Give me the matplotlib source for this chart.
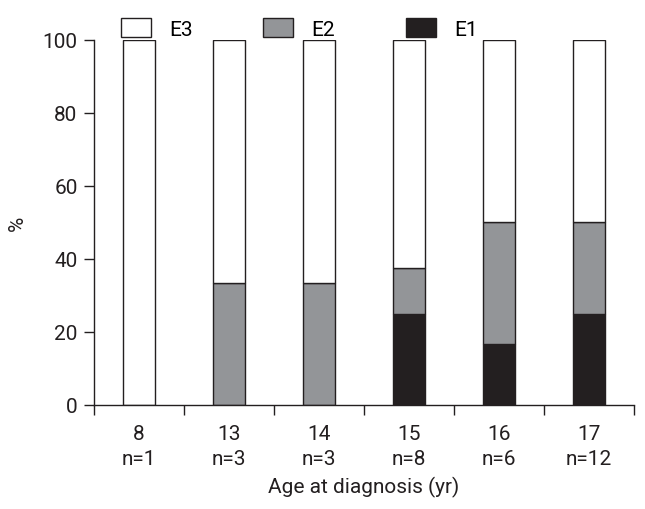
import matplotlib
matplotlib.use('Agg')
import matplotlib.pyplot as plt
import numpy as np

# Age groups and sample sizes
ages = ['8', '13', '14', '15', '16', '17']
n_sizes = ['n=1', 'n=3', 'n=3', 'n=8', 'n=6', 'n=12']

# Percentages per stage (stacked bottom-up: E1, E2, E3)
e1 = [0, 0, 0, 25.0, 16.7, 25.0]
e2 = [0, 33.3, 33.3, 12.5, 33.3, 25.0]
e3 = [100, 66.7, 66.7, 62.5, 50.0, 50.0]

plt.rcParams['font.family'] = ['Roboto', 'DejaVu Sans']
edge = '#231f20'
txt = '#231f20'

fig = plt.figure(figsize=(6.45, 5.1), dpi=100)
ax = fig.add_axes([0.146, 0.204, 0.837, 0.716])

x = np.arange(len(ages)) + 0.5
w = 0.35
b1 = ax.bar(x, e1, w, color='#231f20', edgecolor=edge, linewidth=1, label='E1')
b2 = ax.bar(x, e2, w, bottom=e1, color='#939598', edgecolor=edge, linewidth=1, label='E2')
bottom3 = np.array(e1) + np.array(e2)
b3 = ax.bar(x, e3, w, bottom=bottom3, color='white', edgecolor=edge, linewidth=1, label='E3')

ax.set_xlim(0, len(ages))
ax.set_ylim(0, 100)
ax.set_yticks([0, 20, 40, 60, 80, 100])
ax.set_xticks(np.arange(len(ages) + 1))
ax.set_xticklabels([])
ax.set_xticks(x, minor=True)
ax.set_xticklabels([f'{a}\n{n}' for a, n in zip(ages, n_sizes)], minor=True, linespacing=1.35)
ax.tick_params(axis='x', which='minor', length=0, pad=14, labelsize=15, colors=txt)
ax.tick_params(axis='x', which='major', length=7, width=1, color=edge)
ax.tick_params(axis='y', length=7, width=1, color=edge, labelsize=15, labelcolor=txt, pad=5)

for s in ['top', 'right']:
    ax.spines[s].set_visible(False)
for s in ['left', 'bottom']:
    ax.spines[s].set_color(edge)
    ax.spines[s].set_linewidth(1)

ax.set_xlabel('Age at diagnosis (yr)', fontsize=15, color=txt, labelpad=6)
ax.set_ylabel('%', fontsize=15, color=txt)
ax.yaxis.set_label_coords(-0.125, 0.5)

fig.legend(handles=[b3, b2, b1], labels=['E3', 'E2', 'E1'], ncol=3, frameon=False,
           loc='upper left', bbox_to_anchor=(0.158, 0.999), fontsize=15,
           handlelength=1.45, handleheight=1.0, columnspacing=3.4, handletextpad=0.86)

plt.savefig('out.png', dpi=100)
